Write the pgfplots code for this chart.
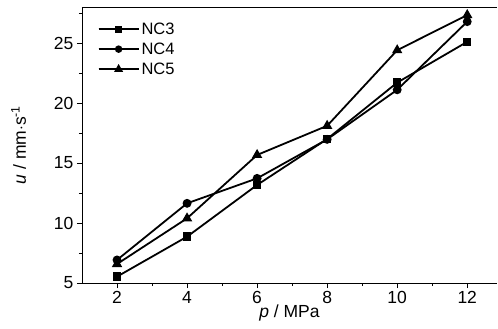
\documentclass[border=0pt]{standalone}
\usepackage{pgfplots}
\pgfplotsset{compat=1.18}
\usepackage{fontspec}
\setmainfont{Liberation Sans}
\begin{document}
\begin{tikzpicture}[x=1pt,y=1pt]
\begin{axis}[
  name=ax,
  scale only axis,
  width=415pt, height=276pt,
  xmin=1, xmax=12.85, ymin=5, ymax=28,
  axis x line*=box, axis y line*=left,
  xtick={2,4,...,12}, ytick={5,10,...,25},
  minor xtick={3,5,...,11}, minor ytick={7.5,12.5,...,27.5},
  xtick pos=left, ytick pos=left,
  tick align=outside,
  major tick length=5pt, minor tick length=3pt,
  every tick/.style={black, line width=0.8pt},
  axis line style={line width=0.8pt},
  /pgf/number format/assume math mode=true,
  tick label style={font=\fontsize{17.5}{20}\selectfont},
  label style={font=\fontsize{17.5}{20}\selectfont},
  xlabel={\textit{p} / MPa},
  ylabel={\textit{u} / mm$\cdot$s\textsuperscript{-1}},
  xlabel style={yshift=6pt},
  ylabel style={yshift=21pt},
  legend style={draw=none, fill=none, at={(0.035,0.955)}, anchor=north west,
     font=\fontsize{16.5}{19}\selectfont, row sep=3pt, inner sep=1pt},
  legend cell align=left,
  legend image code/.code={\draw[#1] (0pt,0pt) -- (40pt,0pt); \draw[#1, mark options={scale=0.8}, mark repeat=2, mark phase=2] plot coordinates {(0pt,0pt) (20pt,0pt) (40pt,0pt)};},
]
\addplot[black, line width=1.8pt, mark=square*, mark size=3.3pt, mark options={solid}] coordinates {(2,5.53) (4,8.86) (6,13.17) (8,17.0) (10,21.7) (12,25.1)};
\addlegendentry{NC3}
\addplot[black, line width=1.8pt, mark=*, mark size=3.5pt, mark options={solid}] coordinates {(2,6.92) (4,11.64) (6,13.72) (8,16.97) (10,21.1) (12,26.78)};
\addlegendentry{NC4}
\addplot[black, line width=1.8pt, mark=triangle*, mark size=4.2pt, mark options={solid}] coordinates {(2,6.58) (4,10.39) (6,15.67) (8,18.1) (10,24.4) (12,27.33)};
\addlegendentry{NC5}
\end{axis}
\pgfresetboundingbox
\path[use as bounding box] ([shift={(-82pt,-46pt)}]ax.south west) rectangle ([shift={(1pt,7pt)}]ax.north east);
\end{tikzpicture}
\end{document}
